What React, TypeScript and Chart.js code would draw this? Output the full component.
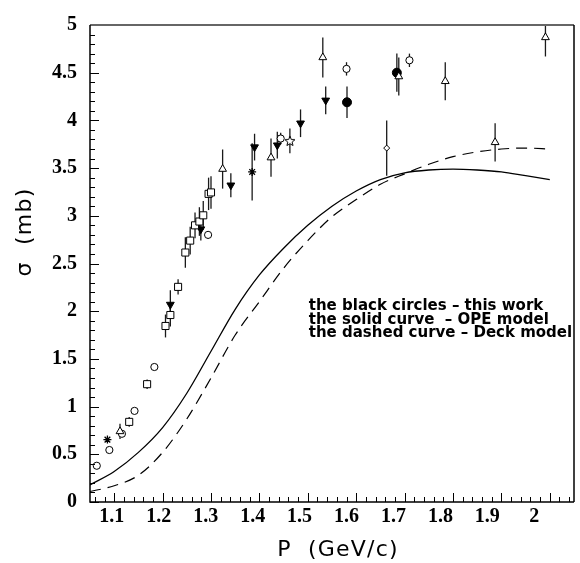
import { useEffect, useRef } from "react";
import { Chart, registerables } from "chart.js";

Chart.register(...registerables);

// ---------- axes ----------
const xMin = 1.05;
const xMax = 2.05;
// the printed P labels sit on a slightly compressed scale in the original figure
const xLabelMin = 1.0534;
const xLabelMax = 2.0847;
const xTickValues = [1.1, 1.2, 1.3, 1.4, 1.5, 1.6, 1.7, 1.8, 1.9, 2.0];
const xTickLabels = ["1.1", "1.2", "1.3", "1.4", "1.5", "1.6", "1.7", "1.8", "1.9", "2"];
const yTickValues = [0, 0.5, 1, 1.5, 2, 2.5, 3, 3.5, 4, 4.5, 5];
const yTickLabels = ["0", "0.5", "1", "1.5", "2", "2.5", "3", "3.5", "4", "4.5", "5"];
const xTitle = "P  (GeV/c)";
const yTitle = "σ  (mb)";
const legendLines = [
  "the black circles – this work",
  "the solid curve  – OPE model",
  "the dashed curve – Deck model",
];

// ---------- model curves ----------
const curveP = [1.05, 1.1, 1.15, 1.2, 1.25, 1.3, 1.35, 1.4, 1.45, 1.5, 1.55, 1.6, 1.65, 1.7, 1.75, 1.8, 1.85, 1.9, 1.95, 2.0];
const opeSigma = [0.18, 0.32, 0.52, 0.78, 1.14, 1.58, 2.02, 2.38, 2.66, 2.9, 3.1, 3.26, 3.38, 3.45, 3.48, 3.49, 3.48, 3.46, 3.42, 3.38];
const deckSigma = [0.11, 0.17, 0.28, 0.52, 0.87, 1.3, 1.75, 2.1, 2.45, 2.74, 2.99, 3.17, 3.33, 3.44, 3.54, 3.62, 3.67, 3.7, 3.71, 3.7];

// ---------- measurements ----------
const blackCircleP = [1.581, 1.684];
const blackCircleSigma = [4.19, 4.5];
const blackCircleErr = [0.165, 0.2];

const openCircleP = [1.064, 1.09, 1.116, 1.142, 1.183, 1.294, 1.444, 1.58, 1.71];
const openCircleSigma = [0.38, 0.545, 0.715, 0.955, 1.415, 2.8, 3.81, 4.54, 4.63];
const openCircleErr = [0, 0, 0.03, 0, 0, 0.04, 0.06, 0.07, 0.07];

const openSquareP = [1.131, 1.168, 1.206, 1.216, 1.232, 1.247, 1.257, 1.267, 1.276, 1.284, 1.295, 1.3];
const openSquareSigma = [0.84, 1.235, 1.845, 1.96, 2.255, 2.615, 2.74, 2.9, 2.94, 3.005, 3.23, 3.245];
const openSquareErr = [0.05, 0.05, 0.12, 0.12, 0.08, 0.16, 0.145, 0.135, 0.15, 0.15, 0.17, 0.17];

const downTriangleP = [1.216, 1.279, 1.341, 1.39, 1.437, 1.485, 1.537];
const downTriangleSigma = [2.07, 2.86, 3.32, 3.72, 3.74, 3.97, 4.21];
const downTriangleErr = [0.15, 0.12, 0.125, 0.14, 0.14, 0.145, 0.145];

const openTriangleP = [1.112, 1.324, 1.424, 1.531, 1.688, 1.784, 1.887, 1.991];
const openTriangleSigma = [0.74, 3.49, 3.61, 4.66, 4.46, 4.41, 3.77, 4.87];
const openTriangleErr = [0.08, 0.205, 0.2, 0.21, 0.2, 0.2, 0.2, 0.2];

const asteriskP = [1.086, 1.385];
const asteriskSigma = [0.654, 3.46];
const asteriskErr = [0, 0.3];

const openStarP = [1.463];
const openStarSigma = [3.785];
const openStarErr = [0.13];

const diamondP = [1.663];
const diamondSigma = [3.71];
const diamondErr = [0.29];

const pts = (p: number[], s: number[]) => p.map((v, i) => ({ x: v, y: s[i] }));

function makeStarCanvas(): HTMLCanvasElement {
  const c = document.createElement("canvas");
  c.width = 12;
  c.height = 12;
  const g = c.getContext("2d")!;
  g.fillStyle = "#fff";
  g.strokeStyle = "#000";
  g.lineWidth = 1;
  g.beginPath();
  for (let k = 0; k < 10; k++) {
    const r = k % 2 === 0 ? 5.2 : 2.3;
    const a = -Math.PI / 2 + (k * Math.PI) / 5;
    const px = 6 + r * Math.cos(a);
    const py = 6.4 + r * Math.sin(a);
    if (k === 0) g.moveTo(px, py);
    else g.lineTo(px, py);
  }
  g.closePath();
  g.fill();
  g.stroke();
  return c;
}

const errorBarPlugin = {
  id: "errorBars",
  beforeDatasetsDraw(chart: any) {
    const { ctx, chartArea: a, scales } = chart;
    const x = scales.x;
    const y = scales.y;
    ctx.save();
    ctx.beginPath();
    ctx.rect(a.left, a.top, a.right - a.left, a.bottom - a.top);
    ctx.clip();
    ctx.strokeStyle = "#1a1a1a";
    ctx.lineWidth = 1.3;
    chart.data.datasets.forEach((ds: any) => {
      if (!ds.errors) return;
      ds.data.forEach((pt: any, i: number) => {
        const e = ds.errors[i];
        if (!e) return;
        const px = x.getPixelForValue(pt.x);
        ctx.beginPath();
        ctx.moveTo(px, y.getPixelForValue(pt.y - e));
        ctx.lineTo(px, y.getPixelForValue(pt.y + e));
        ctx.stroke();
      });
    });
    ctx.restore();
  },
};

const xMinorStep = 0.02;
const yMinorStep = 0.1;

const framePlugin = {
  id: "frameTicks",
  afterDatasetsDraw(chart: any) {
    const { ctx, chartArea: a, scales } = chart;
    const x = scales.x;
    const y = scales.y;
    ctx.save();
    ctx.strokeStyle = "#000";
    ctx.lineWidth = 1;
    const i0 = Math.ceil(x.min / xMinorStep - 1e-6);
    const i1 = Math.floor(x.max / xMinorStep + 1e-6);
    for (let i = i0; i <= i1; i++) {
      const v = i * xMinorStep;
      const major = i % 5 === 0;
      const px = Math.round(x.getPixelForValue(v)) + 0.5;
      ctx.beginPath();
      ctx.moveTo(px, a.bottom);
      ctx.lineTo(px, a.bottom - (major ? 9 : 5));
      ctx.stroke();
    }
    const j0 = Math.ceil(y.min / yMinorStep - 1e-6);
    const j1 = Math.floor(y.max / yMinorStep + 1e-6);
    for (let j = j0; j <= j1; j++) {
      const v = j * yMinorStep;
      const major = j % 5 === 0;
      const py = Math.round(y.getPixelForValue(v)) + 0.5;
      ctx.beginPath();
      ctx.moveTo(a.left, py);
      ctx.lineTo(a.left + (major ? 9 : 5), py);
      ctx.stroke();
    }
    ctx.lineWidth = 2;
    ctx.strokeStyle = "#666";
    ctx.beginPath();
    ctx.moveTo(a.left, a.top);
    ctx.lineTo(a.right, a.top);
    ctx.stroke();
    ctx.strokeStyle = "#000";
    ctx.lineWidth = 1.5;
    ctx.beginPath();
    ctx.moveTo(a.right, a.top);
    ctx.lineTo(a.right, a.bottom);
    ctx.stroke();
    ctx.beginPath();
    ctx.moveTo(a.left, a.top);
    ctx.lineTo(a.left, a.bottom);
    ctx.lineTo(a.right, a.bottom);
    ctx.stroke();
    ctx.restore();
  },
};

const textPlugin = {
  id: "texts",
  afterDraw(chart: any) {
    const { ctx, chartArea: a, scales } = chart;
    const x = scales.x;
    const y = scales.y;
    ctx.save();
    ctx.fillStyle = "#000";
    ctx.font = "bold 15px 'DejaVu Sans'";
    ctx.textAlign = "left";
    ctx.textBaseline = "middle";
    const lx = x.getPixelForValue(1.502);
    const ly = y.getPixelForValue(2.05);
    legendLines.forEach((t, i) => ctx.fillText(t, lx, ly + i * 13.3));
    ctx.font = "22px 'DejaVu Sans'";
    (ctx as any).letterSpacing = "1.2px";
    ctx.textAlign = "center";
    ctx.fillText(xTitle, (a.left + a.right) / 2 + 6, 550);
    ctx.translate(25, 232);
    ctx.rotate(-Math.PI / 2);
    ctx.fillText(yTitle, 0, 0);
    ctx.restore();
  },
};

const tickFont = { family: "'Liberation Serif'", size: 20, weight: "bold" };

export default function App() {
  const ref = useRef<HTMLCanvasElement>(null);
  useEffect(() => {
    const canvas = ref.current!;
    const star = makeStarCanvas();
    const common = { showLine: false, borderColor: "#000", borderWidth: 1 };
    const chart = new Chart(canvas, {
      type: "scatter",
      data: {
        datasets: [
          {
            label: "OPE model",
            data: pts(curveP, opeSigma),
            showLine: true,
            pointRadius: 0,
            borderColor: "#000",
            borderWidth: 1.3,
            cubicInterpolationMode: "monotone",
          },
          {
            label: "Deck model",
            data: pts(curveP, deckSigma),
            showLine: true,
            pointRadius: 0,
            borderColor: "#000",
            borderWidth: 1.2,
            borderDash: [11, 7],
            cubicInterpolationMode: "monotone",
          },
          {
            ...common,
            label: "open squares",
            data: pts(openSquareP, openSquareSigma),
            errors: openSquareErr,
            pointStyle: "rect",
            pointRadius: 5,
            backgroundColor: "#fff",
          },
          {
            ...common,
            label: "open triangles",
            data: pts(openTriangleP, openTriangleSigma),
            errors: openTriangleErr,
            pointStyle: "triangle",
            pointRadius: 4.5,
            backgroundColor: "#fff",
          },
          {
            ...common,
            label: "open circles",
            data: pts(openCircleP, openCircleSigma),
            errors: openCircleErr,
            pointStyle: "circle",
            pointRadius: 3.6,
            backgroundColor: "#fff",
          },
          {
            ...common,
            label: "down triangles",
            data: pts(downTriangleP, downTriangleSigma),
            errors: downTriangleErr,
            pointStyle: "triangle",
            rotation: 180,
            pointRadius: 4.5,
            backgroundColor: "#000",
          },
          {
            ...common,
            label: "asterisks",
            data: pts(asteriskP, asteriskSigma),
            errors: asteriskErr,
            pointStyle: "star",
            pointRadius: 4,
            borderWidth: 1.3,
            backgroundColor: "#000",
          },
          {
            ...common,
            label: "open star",
            data: pts(openStarP, openStarSigma),
            errors: openStarErr,
            pointStyle: star,
            pointRadius: 5,
            backgroundColor: "#fff",
          },
          {
            ...common,
            label: "diamond",
            data: pts(diamondP, diamondSigma),
            errors: diamondErr,
            pointStyle: "rectRot",
            pointRadius: 3,
            backgroundColor: "#fff",
          },
          {
            ...common,
            label: "this work",
            data: pts(blackCircleP, blackCircleSigma),
            errors: blackCircleErr,
            pointStyle: "circle",
            pointRadius: 4.5,
            backgroundColor: "#000",
          },
        ] as any,
      },
      options: {
        responsive: false,
        animation: false,
        devicePixelRatio: 1,
        layout: { padding: { left: 0, right: 3, top: 15, bottom: 0 } },
        plugins: { legend: { display: false }, tooltip: { enabled: false } },
        scales: {
          x: {
            type: "linear",
            position: "bottom",
            min: xMin,
            max: xMax,
            grid: { display: false, drawTicks: false },
            border: { display: false },
            ticks: { display: false },
            afterFit: (s: any) => {
              s.height = 0;
            },
          },
          xLabels: {
            type: "linear",
            position: "bottom",
            min: xLabelMin,
            max: xLabelMax,
            grid: { display: false, drawTicks: false },
            border: { display: false },
            afterBuildTicks: (s: any) => {
              s.ticks = xTickValues.map((v) => ({ value: v }));
            },
            afterFit: (s: any) => {
              s.height = 61;
            },
            ticks: {
              autoSkip: false,
              maxRotation: 0,
              padding: 3,
              color: "#000",
              font: tickFont,
              callback: (_v: any, i: number) => xTickLabels[i],
            },
          },
          y: {
            type: "linear",
            min: 0,
            max: 5,
            grid: { display: false, drawTicks: false },
            border: { display: false },
            afterBuildTicks: (s: any) => {
              s.ticks = yTickValues.map((v) => ({ value: v }));
            },
            afterFit: (s: any) => {
              s.width = 90;
            },
            ticks: {
              autoSkip: false,
              padding: 13,
              color: "#000",
              font: tickFont,
              callback: (_v: any, i: number) => yTickLabels[i],
            },
          },
        },
      } as any,
      plugins: [errorBarPlugin, framePlugin, textPlugin],
    });
    return () => chart.destroy();
  }, []);
  return (
    <div style={{ position: "absolute", left: 0, top: 0, width: 580, height: 563, background: "#fff" }}>
      <canvas ref={ref} width={580} height={563} style={{ display: "block" }} />
    </div>
  );
}
